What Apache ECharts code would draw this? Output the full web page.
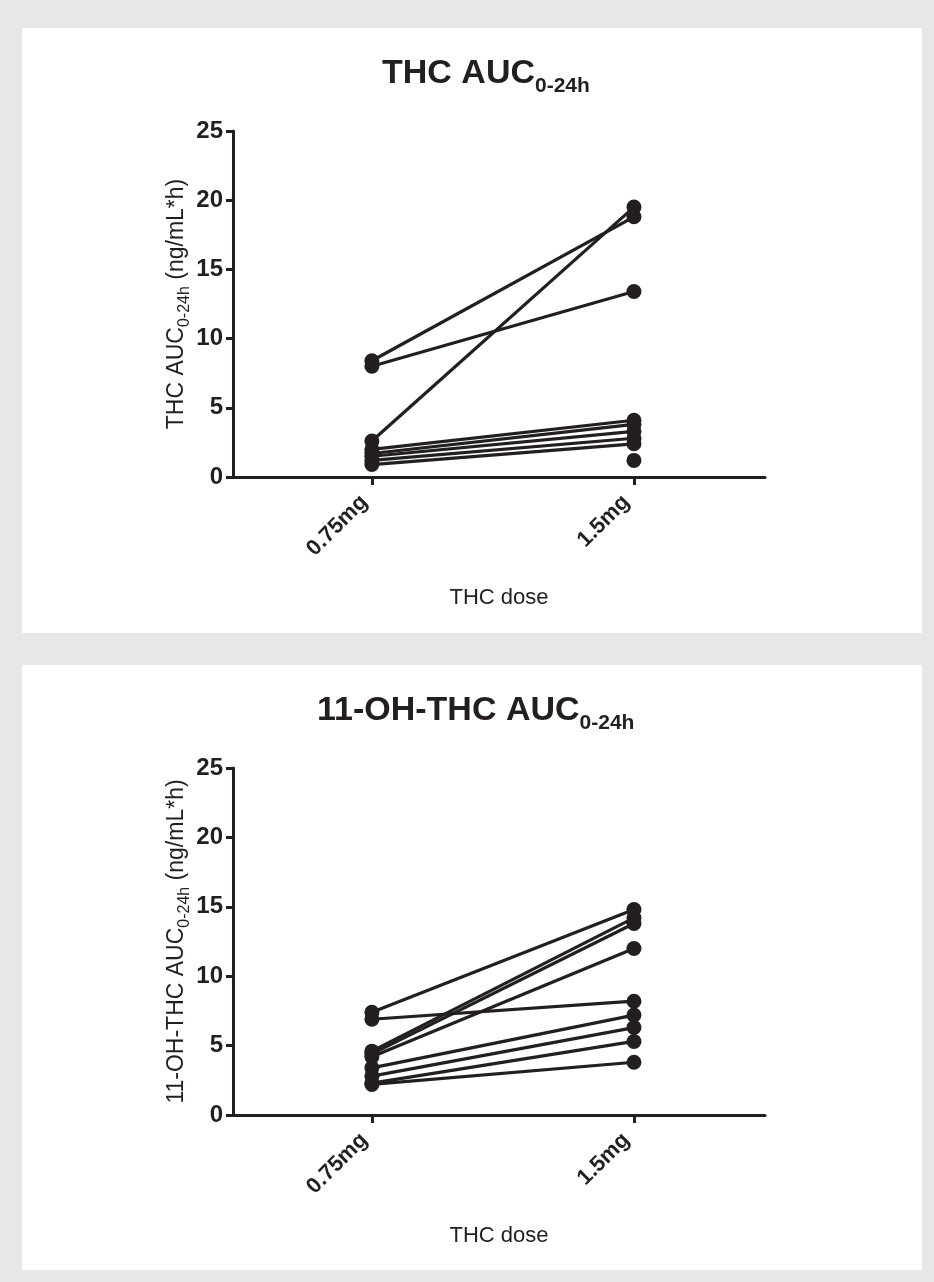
<!DOCTYPE html>
<html><head><meta charset="utf-8">
<script src="https://cdn.jsdelivr.net/npm/echarts@6/dist/echarts.min.js"></script>
<style>html,body{margin:0;padding:0;background:#e6e7e9}#c{width:934px;height:1282px}</style>
</head><body><div id="c"></div>
<script>
// ---- data ----
const doseLabels = ['0.75mg', '1.5mg'];
const doseX = [1, 2];
const yTicks = [0, 5, 10, 15, 20, 25];
// THC AUC0-24h per subject: 0.75 mg and 1.5 mg (null = missing)
const thcLow  = [8.4, 8.0, 2.6, 2.0, 1.7, 1.5, 1.2, 0.9, null];
const thcHigh = [18.8, 13.4, 19.5, 4.1, 3.8, 3.3, 2.8, 2.4, 1.2];
// 11-OH-THC AUC0-24h per subject
const ohLow  = [7.4, 6.9, 4.6, 4.4, 4.2, 3.4, 2.8, 2.3, 2.2];
const ohHigh = [14.8, 8.2, 14.2, 13.8, 12.0, 7.2, 6.3, 5.3, 3.8];

const ink = '#231f20';
const FF = '"Liberation Sans", Arial, sans-serif';

function pairSeries(lows, highs, gi) {
  return lows.map((l, i) => {
    const d = [];
    if (l != null) d.push([doseX[0], l]);
    if (highs[i] != null) d.push([doseX[1], highs[i]]);
    return {
      type: 'line', xAxisIndex: gi, yAxisIndex: gi, data: d,
      symbol: 'circle', symbolSize: 15, showSymbol: true,
      lineStyle: { width: 3.2, color: ink }, itemStyle: { color: ink },
      animation: false, silent: true, z: 3
    };
  });
}

function xAxisDef(gi) {
  return {
    type: 'value', gridIndex: gi, min: 0.47, max: 2.5,
    splitLine: { show: false },
    axisLine: { show: true, onZero: false, lineStyle: { color: ink, width: 3 } },
    axisTick: { show: true, customValues: doseX, length: 8, lineStyle: { color: ink, width: 3 } },
    axisLabel: {
      customValues: doseX, rotate: 45, margin: 14, padding: [0, 11, 0, 0],
      formatter: v => doseLabels[doseX.indexOf(Math.round(v))] || '',
      color: ink, fontFamily: FF, fontWeight: 'bold', fontSize: 22
    },
    name: 'THC dose', nameLocation: 'middle', nameGap: 110, nameMoveOverlap: false,
    nameTextStyle: { color: ink, fontFamily: FF, fontSize: 22 }
  };
}

function yAxisDef(gi, mainName) {
  return {
    type: 'value', gridIndex: gi, min: yTicks[0], max: yTicks[yTicks.length - 1],
    interval: yTicks[1] - yTicks[0],
    splitLine: { show: false },
    axisLine: { show: true, lineStyle: { color: ink, width: 3 } },
    axisTick: { show: true, length: 7, lineStyle: { color: ink, width: 3 } },
    axisLabel: { color: ink, fontFamily: FF, fontWeight: 'bold', fontSize: 24, margin: 10 },
    name: '{a|' + mainName + '}{b|0-24h}{a| (ng/mL*h)}',
    nameLocation: 'middle', nameGap: 40, nameMoveOverlap: false,
    nameTextStyle: {
      rich: {
        a: { color: ink, fontFamily: FF, fontSize: 23, lineHeight: 28, verticalAlign: 'top' },
        b: { color: ink, fontFamily: FF, fontSize: 16, lineHeight: 14, verticalAlign: 'bottom' }
      }
    }
  };
}

function titleDef(main, left, top) {
  return {
    text: '{a|' + main + '}{b|0-24h}', left: left, top: top,
    textStyle: {
      rich: {
        a: { color: ink, fontFamily: FF, fontWeight: 'bold', fontSize: 34, lineHeight: 40, verticalAlign: 'top' },
        b: { color: ink, fontFamily: FF, fontWeight: 'bold', fontSize: 21, lineHeight: 18, verticalAlign: 'bottom' }
      }
    }
  };
}

const chart = echarts.init(document.getElementById('c'), null, { renderer: 'canvas' });
chart.setOption({
  backgroundColor: '#e6e7e9',
  animation: false,
  graphic: [
    { type: 'rect', shape: { x: 22, y: 28, width: 900, height: 605 }, style: { fill: '#ffffff' }, z: -10, silent: true },
    { type: 'rect', shape: { x: 22, y: 665, width: 900, height: 605 }, style: { fill: '#ffffff' }, z: -10, silent: true }
  ],
  title: [titleDef('THC AUC', 377, 52), titleDef('11-OH-THC AUC', 312, 689)],
  grid: [
    { left: 233, top: 131, width: 532, height: 346 },
    { left: 233, top: 768, width: 532, height: 347 }
  ],
  xAxis: [xAxisDef(0), xAxisDef(1)],
  yAxis: [yAxisDef(0, 'THC AUC'), yAxisDef(1, '11-OH-THC AUC')],
  series: [].concat(pairSeries(thcLow, thcHigh, 0), pairSeries(ohLow, ohHigh, 1))
});
</script></body></html>
